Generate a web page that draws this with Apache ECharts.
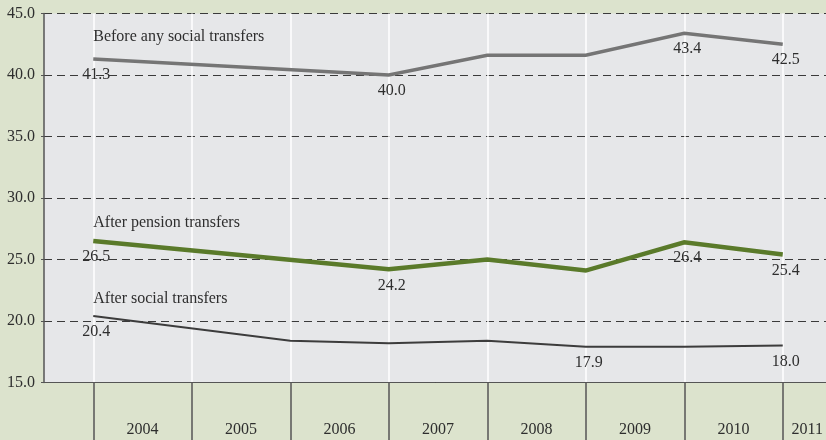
<!DOCTYPE html>
<html>
<head>
<meta charset="utf-8">
<script src="https://cdn.jsdelivr.net/npm/echarts@6/dist/echarts.min.js"></script>
<style>
  html, body { margin: 0; padding: 0; background: #dce3cd; }
  #chart { width: 826px; height: 440px; }
</style>
</head>
<body>
<div id="chart"></div>
<script>
// Years on the category axis
const years = ['2004', '2005', '2006', '2007', '2008', '2009', '2010', '2011'];

// Poverty rate (%) by stage of transfers; null = no observation
const beforeTransfers = [41.3, null, null, 40.0, 41.6, 41.6, 43.4, 42.5];
const afterPensions   = [26.5, null, null, 24.2, 25.0, 24.1, 26.4, 25.4];
const afterSocial     = [20.4, null, 18.4, 18.2, 18.4, 17.9, 17.9, 18.0];

// Years whose value is printed next to the line
const labelledBefore   = ['2004', '2007', '2010', '2011'];
const labelledPensions = ['2004', '2007', '2010', '2011'];
const labelledSocial   = ['2004', '2009', '2011'];

// Value axis range
const yMin = 15, yMax = 45, yStep = 5;

const serif = "'Liberation Serif', 'DejaVu Serif', serif";
const textColor = '#2e2e2e';

function buildData(values, labelled) {
  return values.map((v, i) => {
    if (v === null) return null;
    return labelled.includes(years[i]) ? { value: v, label: { show: true } } : v;
  });
}

function lineSeries(name, values, labelled, color, width, nameGap) {
  return {
    name: name,
    type: 'line',
    xAxisIndex: 0,
    yAxisIndex: 0,
    data: buildData(values, labelled),
    connectNulls: true,
    symbol: 'circle',
    symbolSize: 0,
    showSymbol: true,
    lineStyle: { color: color, width: width, cap: 'butt', join: 'miter' },
    itemStyle: { color: color },
    label: {
      show: false,
      position: 'bottom',
      distance: 8,
      offset: [3, 0],
      color: textColor,
      fontFamily: serif,
      fontSize: 16,
      formatter: p => Number(p.value).toFixed(1)
    },
    markPoint: {
      symbol: 'circle',
      symbolSize: 0,
      silent: true,
      data: [{ coord: [years[0], values[0]] }],
      label: {
        show: true,
        position: 'top',
        distance: nameGap,
        align: 'left',
        color: textColor,
        fontFamily: serif,
        fontSize: 16,
        formatter: () => name
      }
    },
    emphasis: { disabled: true },
    silent: true
  };
}

const chart = echarts.init(document.getElementById('chart'), null, { renderer: 'canvas' });

chart.setOption({
  animation: false,
  backgroundColor: '#dce3cd',
  grid: {
    show: true,
    left: 44,
    top: 13.5,
    width: 788,
    height: 369,
    outerBoundsMode: 'none',
    containLabel: false,
    backgroundColor: '#e6e7e9',
    borderWidth: 0
  },
  xAxis: [
    {
      type: 'category',
      data: years,
      boundaryGap: true,
      position: 'bottom',
      axisLine: { show: true, lineStyle: { color: '#555', width: 1 } },
      axisTick: { show: true, interval: 0, alignWithLabel: true, inside: false, length: 58,
                  lineStyle: { color: '#555', width: 1.5 } },
      axisLabel: { show: false, interval: 0 },
      splitLine: { show: true, interval: 0, alignWithLabel: true,
                   lineStyle: { color: '#ffffff', width: 1.5 } }
    },
    {
      type: 'category',
      data: [''].concat(years).map((y, i, arr) =>
        i === arr.length - 1
          ? { value: y, textStyle: { align: 'right', padding: [0, 9, 0, 0] } }
          : y),
      boundaryGap: false,
      position: 'bottom',
      axisLine: { show: false },
      axisTick: { show: false },
      splitLine: { show: false },
      axisLabel: { interval: 0, margin: 39, color: textColor, fontFamily: serif, fontSize: 16 }
    }
  ],
  yAxis: {
    type: 'value',
    min: yMin,
    max: yMax,
    interval: yStep,
    axisLine: { show: true, lineStyle: { color: '#555', width: 1.5 } },
    axisTick: { show: true, length: 3, lineStyle: { color: '#555' } },
    axisLabel: { margin: 9, color: textColor, fontFamily: serif, fontSize: 16,
                 formatter: v => v.toFixed(1) },
    splitLine: { show: true, lineStyle: { color: '#3a3a3a', width: 1, type: [8, 5] } }
  },
  series: [
    lineSeries('Before any social transfers', beforeTransfers, labelledBefore, '#757575', 3.5, 14),
    lineSeries('After pension transfers', afterPensions, labelledPensions, '#5a7a2a', 4.5, 10),
    lineSeries('After social transfers', afterSocial, labelledSocial, '#3c3c3c', 2, 9)
  ]
});
</script>
</body>
</html>
